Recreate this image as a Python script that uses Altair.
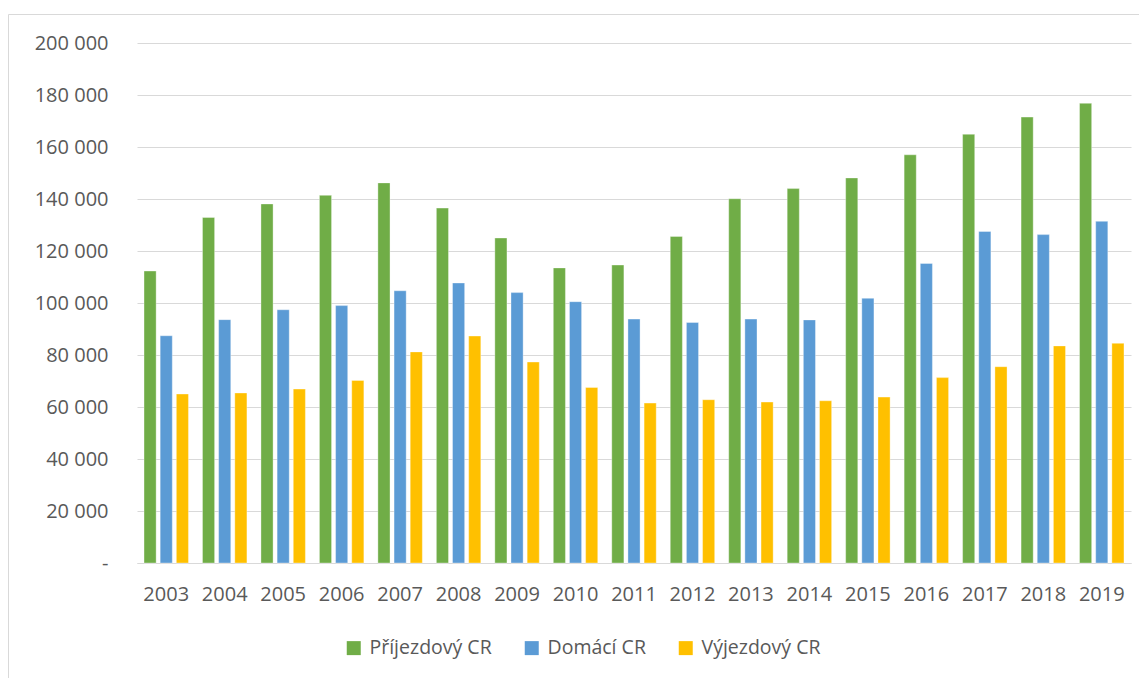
import altair as alt
import pandas as pd

years = [str(y) for y in range(2003, 2020)]
series = ["Příjezdový CR", "Domácí CR", "Výjezdový CR"]
prijezdovy = [112300, 132900, 138100, 141400, 146200, 136500, 125000, 113500, 114600,
              125600, 140100, 144000, 148100, 157000, 164900, 171500, 176800]
domaci = [87400, 93600, 97400, 99000, 104700, 107700, 104000, 100500, 93800,
          92500, 93800, 93500, 101800, 115200, 127500, 126300, 131400]
vyjezdovy = [65000, 65400, 66900, 70200, 81200, 87300, 77300, 67500, 61500,
             62800, 61900, 62400, 63800, 71300, 75500, 83500, 84500]
colors = ["#70AD47", "#5B9BD5", "#FFC000"]

rows = []
for name, vals in zip(series, [prijezdovy, domaci, vyjezdovy]):
    for y, v in zip(years, vals):
        rows.append({"Rok": y, "Typ": name, "Hodnota": v})
df = pd.DataFrame(rows)

FONT = "Open Sans"
TXT = "#595959"

bars = alt.Chart(df).mark_bar(stroke="#ffffff", strokeOpacity=0.5, strokeWidth=0.7).encode(
    x=alt.X("Rok:N", sort=years, title=None,
            scale=alt.Scale(paddingInner=0.24, paddingOuter=0.12),
            axis=alt.Axis(labelAngle=0, ticks=False, domain=True, domainColor="#d9d9d9",
                          domainWidth=1, labelFont=FONT, labelFontSize=20,
                          labelColor=TXT, labelPadding=21, grid=False)),
    xOffset=alt.XOffset("Typ:N", sort=series,
                        scale=alt.Scale(paddingInner=0.25, paddingOuter=0)),
    y=alt.Y("Hodnota:Q", title=None,
            scale=alt.Scale(domain=[0, 200000], nice=False),
            axis=alt.Axis(values=list(range(0, 200001, 20000)), domain=False, ticks=False,
                          gridColor="#d9d9d9", gridWidth=1, labelFont=FONT,
                          labelFontSize=20, labelColor=TXT, labelPadding=29,
                          labelExpr="datum.value == 0 ? '-\u00a0\u00a0\u00a0' : replace(format(datum.value, ','), ',', ' ')")),
    color=alt.Color("Typ:N", sort=series,
                    scale=alt.Scale(domain=series, range=colors),
                    legend=alt.Legend(title=None, orient="none", legendX=207, legendY=595,
                                      direction="horizontal", symbolType="square",
                                      symbolSize=196, symbolStrokeWidth=0,
                                      labelFont=FONT, labelFontSize=19.5, labelColor=TXT,
                                      labelOffset=6, columnPadding=30)),
)

border = alt.Chart(pd.DataFrame({"a": [0]})).mark_rect(
    fill=None, stroke="#d9d9d9", strokeWidth=1
).encode(
    x=alt.value(-128.5), x2=alt.value(1010), y=alt.value(-28.5), y2=alt.value(700)
)

chart = alt.layer(border, bars).properties(
    width=994, height=520,
    autosize=alt.AutoSizeParams(type="none"),
    padding={"left": 129, "top": 35, "right": 8, "bottom": 115},
).configure(background="white").configure_view(stroke=None)

chart.save("out.html", embed_options={"renderer": "svg", "actions": False})
